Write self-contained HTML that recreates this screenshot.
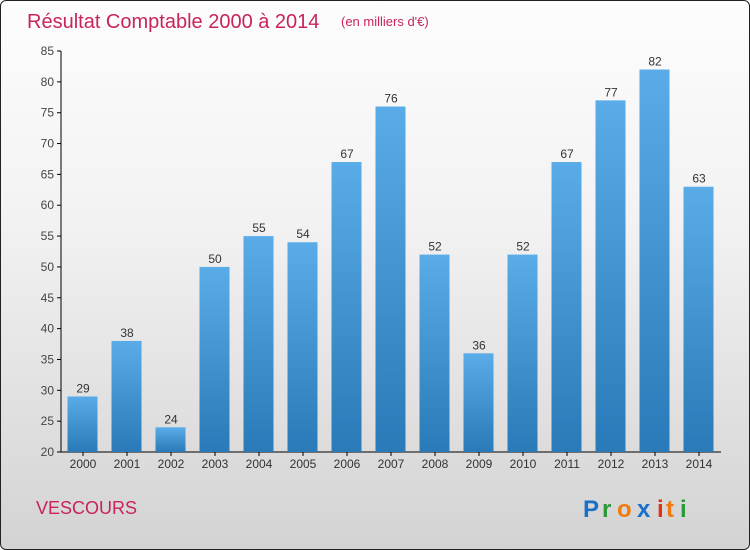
<!DOCTYPE html>
<html><head><meta charset="utf-8"><style>
body{margin:0;}
#c{width:748px;height:548px;border:1px solid #222;border-radius:6px;overflow:hidden;position:relative;background:linear-gradient(#fdfdfd,#f2f2f2 40%,#d3d3d3);font-family:"Liberation Sans",sans-serif;}
svg{position:absolute;left:0;top:0;}
</style></head><body>
<div id="c">
<svg id="s" width="750" height="550">
<defs><linearGradient id="g" x1="0" y1="0" x2="0" y2="1"><stop offset="0" stop-color="#5aace8"/><stop offset="1" stop-color="#2a79b8"/></linearGradient></defs>
<text x="26" y="27" font-size="20" fill="#c8245a">Résultat Comptable 2000 à 2014</text>
<text x="340" y="25" font-size="13" fill="#c8245a">(en milliers d'€)</text>
<text x="35" y="513" font-size="18" fill="#c8245a">VESCOURS</text>
<g font-size="24" font-weight="bold">
<text x="582" y="516" fill="#1a6fc8">P</text><text x="601" y="516" fill="#2a9a3a">r</text><text x="616" y="516" fill="#f07a10">o</text><text x="636" y="516" fill="#1a6fc8">x</text><text x="656" y="516" fill="#e03010">i</text><text x="665" y="516" fill="#f07a10">t</text><text x="679" y="516" fill="#2a9a3a">i</text>
</g>
</svg>
</div>
<script>
const years=["2000","2001","2002","2003","2004","2005","2006","2007","2008","2009","2010","2011","2012","2013","2014"];
const values=[29,38,24,50,55,54,67,76,52,36,52,67,77,82,63];
const yTicks=[20,25,30,35,40,45,50,55,60,65,70,75,80,85];
const s=document.getElementById('s');const NS='http://www.w3.org/2000/svg';
const y=v=>451-(v-20)*(401/65);
const x=i=>82+i*44;
function mk(t,a){const e=document.createElementNS(NS,t);for(const k in a)e.setAttribute(k,a[k]);s.appendChild(e);return e;}
let ax=mk('line',{x1:60,y1:50,x2:60,y2:451,stroke:'#000'});


let bx=mk('line',{x1:60,y1:451,x2:720,y2:451,stroke:'#000'});


yTicks.forEach(v=>{
 let t=mk('line',{x1:56,x2:60,y1:y(v),y2:y(v),stroke:'#000'});
 
 
 let l=mk('text',{x:53,y:y(v)+4,'font-size':12,fill:'#444','text-anchor':'end'});l.textContent=v;
 
 
});
years.forEach((yr,i)=>{
 let r=mk('rect',{x:x(i)-15.5,y:y(values[i]),width:30,height:451-y(values[i]),fill:'url(#g)'});
 
 
 let v=mk('text',{x:x(i),y:y(values[i])-4,'font-size':12,fill:'#333','text-anchor':'middle'});v.textContent=values[i];
 
 
 let t=mk('line',{x1:x(i),x2:x(i),y1:451,y2:455,stroke:'#000'});
 
 
 let l=mk('text',{x:x(i),y:467,'font-size':12,fill:'#333','text-anchor':'middle'});l.textContent=yr;
 
 
});
</script>
</body></html>
